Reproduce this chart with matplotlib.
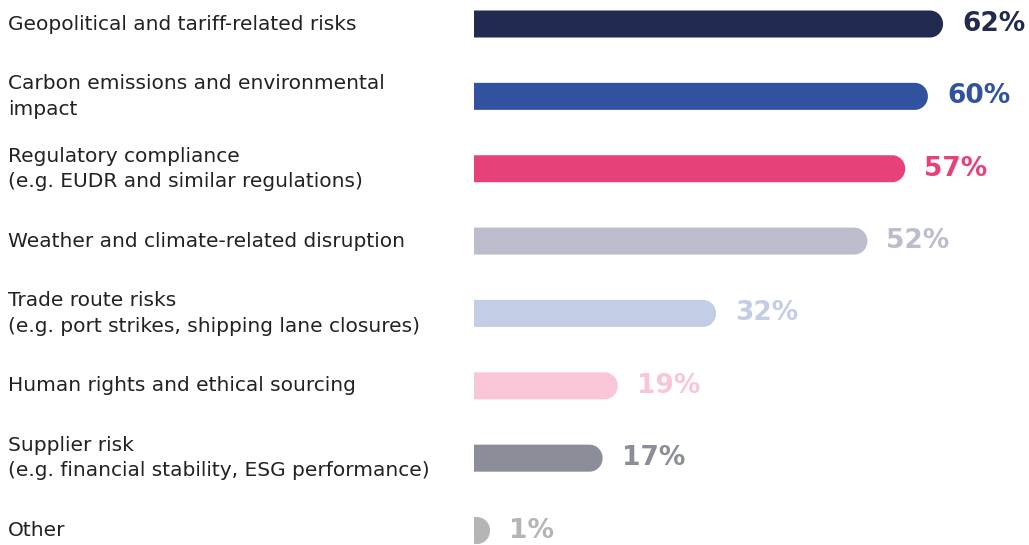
import numpy as np
import matplotlib.pyplot as plt
from matplotlib.patches import PathPatch
from matplotlib.path import Path
import matplotlib.transforms as mtransforms

# данные
labels = [
    "Geopolitical and tariff-related risks",
    "Carbon emissions and environmental\nimpact",
    "Regulatory compliance\n(e.g. EUDR and similar regulations)",
    "Weather and climate-related disruption",
    "Trade route risks\n(e.g. port strikes, shipping lane closures)",
    "Human rights and ethical sourcing",
    "Supplier risk\n(e.g. financial stability, ESG performance)",
    "Other",
]
values = [62, 60, 57, 52, 32, 19, 17, 1]
colors = ["#222a50", "#31529e", "#e8417a", "#bcbdcc",
          "#c4cde6", "#f8c6d7", "#8b8d98", "#b5b5b5"]

W, H = 1029, 545
fig = plt.figure(figsize=(W / 100, H / 100), dpi=100)
left_px = 474
ax = fig.add_axes([left_px / W, 0, 1 - left_px / W, 1])

px_per_pct = 7.565
row_px = 72.36
top_px = 24
ax.set_xlim(0, (W - left_px) / px_per_pct)
ax.set_ylim((H - top_px) / row_px, -top_px / row_px)
ax.axis("off")

bar_h = 27 / row_px          # высота полосы в единицах оси y
ry = bar_h / 2
rx = 13 / px_per_pct         # радиус скругления в единицах оси x
theta = np.linspace(-np.pi / 2, np.pi / 2, 40)

for i, (v, c) in enumerate(zip(values, colors)):
    flat = max(v - rx, 0.4)
    pts = [(0, i + ry), (flat, i + ry)]
    # полукруг справа (ось y перевёрнута)
    for t in theta[::-1]:
        pts.append((flat + rx * np.cos(t), i + ry * np.sin(t)))
    pts += [(0, i - ry), (0, i + ry)]
    codes = [Path.MOVETO] + [Path.LINETO] * (len(pts) - 2) + [Path.CLOSEPOLY]
    ax.add_patch(PathPatch(Path(pts, codes), facecolor=c, edgecolor="none"))
    ax.text(flat + rx + 19 / px_per_pct, i, f"{v}%", color=c, fontsize=19,
            fontweight="bold", va="center", ha="left")

trans = mtransforms.blended_transform_factory(fig.transFigure, ax.transData)
for i, lab in enumerate(labels):
    ax.text(8 / W, i, lab, transform=trans, fontsize=14.5, color="#222222",
            va="center", ha="left", linespacing=1.42)

fig.savefig("out.png", dpi=100)
